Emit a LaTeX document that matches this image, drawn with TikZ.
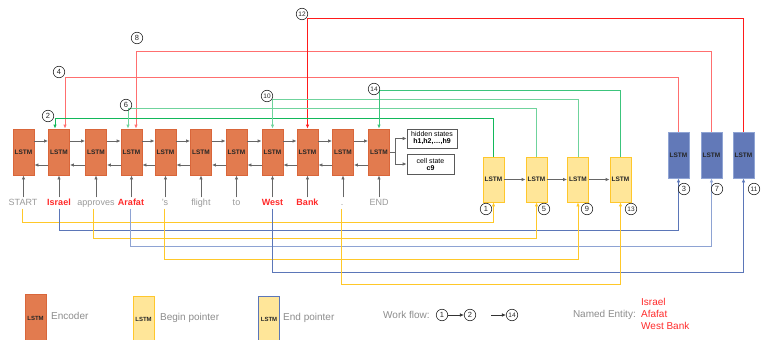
\documentclass[tikz,border=0pt]{standalone}
\usepackage{fontspec}
\setmainfont{Liberation Sans}
\usetikzlibrary{arrows.meta}
\definecolor{encfill}{HTML}{E27B4F}
\definecolor{encdraw}{HTML}{D9663A}
\definecolor{begfill}{HTML}{FFE699}
\definecolor{begdraw}{HTML}{FFC72C}
\definecolor{endfill}{HTML}{6279B8}
\definecolor{enddraw}{HTML}{8FA4D4}
\definecolor{wordgray}{HTML}{999999}
\definecolor{arrgray}{HTML}{666666}
\definecolor{nered}{HTML}{FF2A2A}
\definecolor{redL}{HTML}{FF6F6F}
\definecolor{redD}{HTML}{FF1A1A}
\definecolor{greenD}{HTML}{12B85A}
\definecolor{greenL}{HTML}{6FD39C}
\definecolor{greenM}{HTML}{3CC47C}
\definecolor{yelL}{HTML}{FFC829}
\definecolor{bluL}{HTML}{5B76B8}
\definecolor{bluLL}{HTML}{8EA3D3}
\definecolor{legtext}{HTML}{8C8C8C}
\begin{document}
\begin{tikzpicture}[x=1pt,y=-1pt,
  box/.style={line width=0.8pt, minimum width=21pt, inner sep=0pt,
    font=\bfseries\fontsize{6.5}{7}\selectfont, text=black!85},
  enc/.style={box, draw=encdraw, fill=encfill, minimum height=46pt},
  beg/.style={box, draw=begdraw, fill=begfill, minimum height=45pt},
  endp/.style={box, draw=enddraw, fill=endfill, minimum height=46pt},
  word/.style={font=\fontsize{9}{10}\selectfont, text=wordgray, inner sep=1pt,
    text height=7pt, text depth=2pt},
  neword/.style={word, text=nered, font=\bfseries\fontsize{9}{10}\selectfont},
  num/.style={circle, draw=black!85, line width=0.6pt, inner sep=0pt,
    minimum size=11.5pt, font=\fontsize{7.5}{7.5}\selectfont, text=black!85},
  tipA/.style={-{Latex[length=4pt,width=3.5pt]}},
  flow/.style={arrgray, line width=0.8pt, tipA},
  conn/.style={line width=0.9pt, tipA},
  stbox/.style={draw=black!65, line width=0.6pt, minimum width=50pt, inner sep=1pt,
    align=center, font=\fontsize{7}{8}\selectfont},
  legtxt/.style={font=\fontsize{10}{11}\selectfont, text=legtext, anchor=west, inner sep=0pt}
]
\useasboundingbox (0,0) rectangle (761,340);
\clip (0,0) rectangle (761,340);

% encoder
\node[enc] (e0) at (23.5,152) {LSTM};
\node[enc] (e1) at (59,152) {LSTM};
\node[enc] (e2) at (96,152) {LSTM};
\node[enc] (e3) at (131.5,152) {LSTM};
\node[enc] (e4) at (165.5,152) {LSTM};
\node[enc] (e5) at (201,152) {LSTM};
\node[enc] (e6) at (236.5,152) {LSTM};
\node[enc] (e7) at (272.5,152) {LSTM};
\node[enc] (e8) at (307.5,152) {LSTM};
\node[enc] (e9) at (343,152) {LSTM};
\node[enc] (e10) at (379,152) {LSTM};

% words
\node[word] (w0) at (23,203) {START};
\node[neword] (w1) at (59,203) {Israel};
\node[word] (w2) at (96,203) {approves};
\node[neword] (w3) at (131,203) {Arafat};
\node[word] (w4) at (165,203) {'s};
\node[word] (w5) at (201,203) {flight};
\node[word] (w6) at (236.5,203) {to};
\node[neword] (w7) at (272.5,203) {West};
\node[neword] (w8) at (307.5,203) {Bank};
\node[word] (w9) at (342,203) {.};
\node[word] (w10) at (379,203) {END};

\foreach \i in {0,...,10}{
  \draw[flow] (e\i.south |- w\i.north) -- (e\i.south);
}
\foreach \i/\j in {0/1,1/2,2/3,3/4,4/5,5/6,6/7,7/8,8/9,9/10}{
  \draw[flow] ([yshift=11pt]e\i.east) -- ([yshift=11pt]e\j.west);
  \draw[flow] ([yshift=-13pt]e\j.west) -- ([yshift=-13pt]e\i.east);
}

% states
\node[stbox, minimum height=19pt] (hs) at (432,138.5) {hidden states\\[-1pt]\textbf{h1,h2,\dots,h9}};
\node[stbox, minimum height=20pt, minimum width=47pt] (cs) at (430.5,164) {cell state\\[-1pt]\textbf{c9}};
\coordinate (br) at (395,152);
\draw[arrgray, line width=0.8pt] (e10.east) -- (br);
\draw[flow] (br) |- (hs.west);
\draw[flow] (br) |- (cs.west);

% begin pointers
\node[beg] (b1) at (493.5,179.5) {LSTM};
\node[beg] (b2) at (536.5,179.5) {LSTM};
\node[beg] (b3) at (578,179.5) {LSTM};
\node[beg] (b4) at (620.5,179.5) {LSTM};
\draw[flow] (b1.east) -- (b2.west);
\draw[flow] (b2.east) -- (b3.west);
\draw[flow] (b3.east) -- (b4.west);

% end pointers
\node[endp] (n1) at (678.5,155) {LSTM};
\node[endp] (n2) at (711.5,155) {LSTM};
\node[endp] (n3) at (743.5,155) {LSTM};

% red connectors (end pointer -> encoder)
\draw[conn, redL] (n1.north) -- (n1.north |- 0,77) -| ([xshift=6pt]e1.north);
\draw[conn, redL] (n2.north) -- (n2.north |- 0,51) -| ([xshift=4.5pt]e3.north);
\draw[conn, redD] (n3.north) -- (n3.north |- 0,18) -| (e8.north);

% green connectors (begin pointer -> encoder)
\draw[conn, greenD] (b1.north) -- (b1.north |- 0,118) -| ([xshift=-4pt]e1.north);
\draw[conn, greenL] (b2.north) -- (b2.north |- 0,108) -| ([xshift=-3.5pt]e3.north);
\draw[conn, greenL] (b3.north) -- (b3.north |- 0,99) -| (e7.north);
\draw[conn, greenM] (b4.north) -- (b4.north |- 0,90) -| (e10.north);

% bottom connectors (words -> pointers)
\draw[conn, yelL] ([xshift=-1pt]w0.south) -- ([xshift=-1pt]w0.south |- 0,222) -| (b1.south);
\draw[conn, bluL] (w1.south) -- (w1.south |- 0,230) -| (n1.south);
\draw[conn, yelL] ([xshift=-3pt]w2.south) -- ([xshift=-3pt]w2.south |- 0,238) -| (b2.south);
\draw[conn, bluLL] ([xshift=-1pt]w3.south) -- ([xshift=-1pt]w3.south |- 0,246) -| (n2.south);
\draw[conn, yelL] ([xshift=-1pt]w4.south) -- ([xshift=-1pt]w4.south |- 0,259) -| (b3.south);
\draw[conn, bluL] (w7.south) -- (w7.south |- 0,272) -| (n3.south);
\draw[conn, yelL] ([xshift=-1pt]w9.south) -- ([xshift=-1pt]w9.south |- 0,284) -| (b4.south);

% step numbers
\node[num] (c1) at (486,209) {1};
\node[num] (c2) at (48,116) {2};
\node[num] (c3) at (684,189) {3};
\node[num] (c4) at (59,72) {4};
\node[num] (c5) at (544,209) {5};
\node[num] (c6) at (126,105) {6};
\node[num] (c7) at (717,189) {7};
\node[num] (c8) at (137,38) {8};
\node[num] (c9) at (587,209) {9};
\node[num, font=\fontsize{6.5}{6.5}\selectfont] (c10) at (267,96) {10};
\node[num, font=\fontsize{6.5}{6.5}\selectfont] (c11) at (754,189) {11};
\node[num, font=\fontsize{6.5}{6.5}\selectfont] (c12) at (302,14) {12};
\node[num, font=\fontsize{6.5}{6.5}\selectfont] (c13) at (631,209) {13};
\node[num, font=\fontsize{6.5}{6.5}\selectfont] (c14) at (374,89) {14};

% legend
\node[enc, anchor=north, minimum height=48pt, font=\bfseries\fontsize{6}{7}\selectfont] (lg1) at (35.5,294) {LSTM};
\node[legtxt] (lt1) at (51,316) {Encoder};
\node[beg, anchor=north, minimum height=46pt, font=\bfseries\fontsize{6}{7}\selectfont] (lg2) at (143.5,296) {LSTM};
\node[legtxt] (lt2) at (160,318) {Begin pointer};
\node[box, draw=bluL, fill=begfill, anchor=north, minimum height=46pt, font=\bfseries\fontsize{6}{7}\selectfont] (lg3) at (269,296) {LSTM};
\node[legtxt] (lt3) at (283,318) {End pointer};

\node[legtxt] (wf) at (383,315) {Work flow:};
\node[num] (f1) at (442,315) {1};
\node[num] (f2) at (470,315) {2};
\node[num, font=\fontsize{6.5}{6.5}\selectfont] (f14) at (512,315) {14};
\coordinate (fs) at (491,315);
\draw[line width=0.7pt, black!80, tipA] (f1.east) -- (f2.west);
\draw[line width=0.7pt, black!80, tipA] (fs) -- (f14.west);

\node[legtxt, anchor=east] (nel) at (636,315) {Named Entity:};
\node[legtxt, text=nered] (ne1) at (641,302) {Israel};
\node[legtxt, text=nered] (ne2) at (641,314) {Afafat};
\node[legtxt, text=nered] (ne3) at (641,326) {West Bank};
\end{tikzpicture}
\end{document}
